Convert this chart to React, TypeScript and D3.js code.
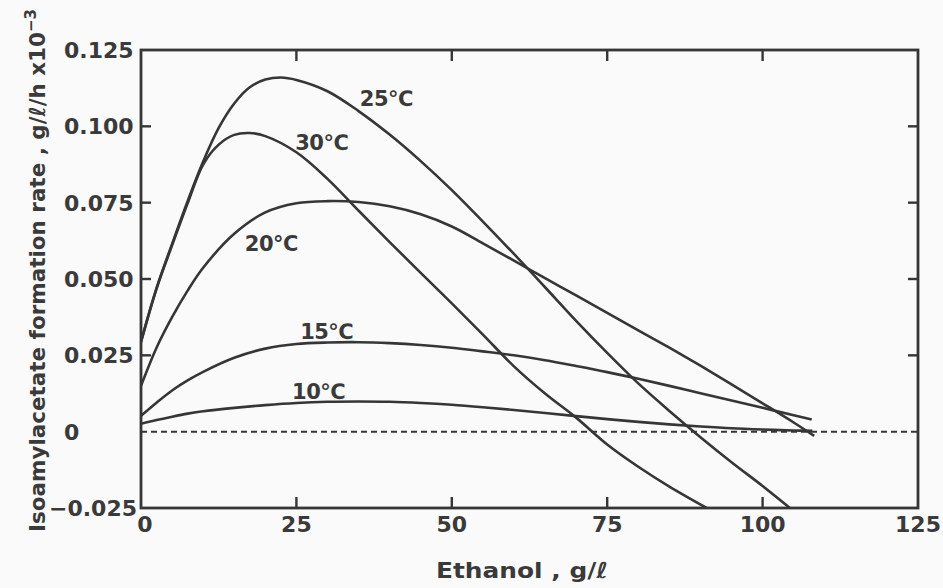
import React from "react";
import * as d3 from "d3";

const W = 943;
const H = 588;

// Data (Ethanol g/l, Isoamylacetate formation rate)
const ethanol25 = [0, 2.5, 5, 7.5, 10, 12.5, 15, 17.5, 20, 22.5, 25, 30, 35, 40, 45, 50, 55, 60, 65, 70, 75, 80, 85, 90, 95, 100, 104.4];
const rate25 = [0.0295, 0.047, 0.0615, 0.0755, 0.0885, 0.0995, 0.1075, 0.1128, 0.1153, 0.116, 0.1152, 0.1115, 0.105, 0.0973, 0.0886, 0.0791, 0.0688, 0.0582, 0.0473, 0.0363, 0.0258, 0.0158, 0.0068, -0.0018, -0.01, -0.0178, -0.025];

const ethanol30 = [0, 2.5, 5, 7.5, 10, 12.5, 15, 17.5, 20, 25, 30, 35, 40, 45, 50, 55, 60, 65, 70, 75, 80, 85, 91];
const rate30 = [0.0293, 0.0468, 0.061, 0.0748, 0.0875, 0.094, 0.0972, 0.0978, 0.0968, 0.0915, 0.0828, 0.0724, 0.0621, 0.052, 0.042, 0.0318, 0.0214, 0.0125, 0.0046, -0.0042, -0.0115, -0.018, -0.025];

const ethanol20 = [0, 2.5, 5, 7.5, 10, 15, 20, 25, 30, 35, 40, 45, 50, 55, 60, 65, 70, 75, 80, 85, 90, 95, 100, 105, 108.3];
const rate20 = [0.015, 0.0275, 0.0375, 0.0462, 0.0537, 0.0648, 0.0718, 0.0748, 0.0755, 0.0752, 0.0738, 0.0712, 0.0672, 0.0617, 0.056, 0.0503, 0.0446, 0.0389, 0.0332, 0.0275, 0.0216, 0.0155, 0.0093, 0.003, -0.0014];

const ethanol15 = [0, 2.5, 5, 7.5, 10, 15, 20, 25, 30, 35, 40, 45, 50, 55, 60, 65, 70, 75, 80, 85, 90, 95, 100, 105, 107.9];
const rate15 = [0.0052, 0.0095, 0.0135, 0.0168, 0.0196, 0.0242, 0.0272, 0.0287, 0.0292, 0.0293, 0.029, 0.0284, 0.0275, 0.0263, 0.025, 0.0234, 0.0215, 0.0195, 0.0173, 0.015, 0.0126, 0.0102, 0.0078, 0.0054, 0.004];

const ethanol10 = [0, 2.5, 5, 7.5, 10, 15, 20, 25, 30, 35, 40, 45, 50, 55, 60, 65, 70, 75, 80, 85, 90, 95, 100, 105, 108];
const rate10 = [0.0026, 0.0038, 0.0049, 0.0059, 0.0067, 0.0078, 0.0087, 0.0094, 0.0098, 0.0099, 0.0098, 0.0094, 0.0088, 0.008, 0.0071, 0.0061, 0.0051, 0.0041, 0.0032, 0.0024, 0.0017, 0.0011, 0.0007, 0.0004, 0.0003];

const curveLabels = ["25\u2103", "30\u2103", "20°C", "15\u2103", "10\u2103"];
const labelEthanol = [35.2, 24.8, 16.7, 25.6, 24.3];
const labelRate = [0.1068, 0.0924, 0.0593, 0.0305, 0.0108];

const xTicks = [0, 25, 50, 75, 100, 125];
const xTickLabels = ["0", "25", "50", "75", "100", "125"];
const yTicks = [-0.025, 0, 0.025, 0.05, 0.075, 0.1, 0.125];
const yTickLabels = ["\u22120.025", "0", "0.025", "0.050", "0.075", "0.100", "0.125"];

const xTitle = "Ethanol , g/\u2113";
const yTitle = "Isoamylacetate formation rate , g/\u2113/h x10";
const yTitleExp = "\u22123";

export default function App() {
  const x = d3.scaleLinear().domain([0, 125]).range([141, 918]);
  const y = d3.scaleLinear().domain([-0.025, 0.125]).range([508, 50]);

  const series = [
    [ethanol25, rate25],
    [ethanol30, rate30],
    [ethanol20, rate20],
    [ethanol15, rate15],
    [ethanol10, rate10],
  ].map(([xs, ys]) => xs.map((v, i) => [v, ys[i]] as [number, number]));

  const line = d3
    .line<[number, number]>()
    .x((d) => x(d[0]))
    .y((d) => y(d[1]))
    .curve(d3.curveCatmullRom.alpha(0.5));

  const ink = "#363636";
  const textInk = "#3a3a3a";
  const font = "'DejaVu Sans', sans-serif";
  const [x0, x1] = x.range();
  const [yb, yt] = y.range();

  return (
    <svg
      width={W}
      height={H}
      style={{ position: "absolute", left: 0, top: 0, background: "#fafafa" }}
      fontFamily={font}
    >
      <rect x={0} y={0} width={W} height={H} fill="#fafafa" />
      <defs>
        <clipPath id="plot">
          <rect x={x0} y={yt} width={x1 - x0} height={yb - yt} />
        </clipPath>
      </defs>

      {/* zero dashed line */}
      <line x1={x0} x2={x1} y1={y(0)} y2={y(0)} stroke={ink} strokeWidth={2} strokeDasharray="6,4" />

      {/* curves */}
      <g clipPath="url(#plot)">
        {series.map((s, i) => (
          <path key={i} d={line(s) || ""} fill="none" stroke={ink} strokeWidth={2.6} strokeLinejoin="round" />
        ))}
      </g>

      {/* frame */}
      <rect x={x0} y={yt} width={x1 - x0} height={yb - yt} fill="none" stroke={ink} strokeWidth={2.8} />

      {/* x ticks (inward, top & bottom) */}
      {xTicks.slice(1, -1).map((t) => (
        <g key={"xt" + t}>
          <line x1={x(t)} x2={x(t)} y1={yb} y2={yb - 11} stroke={ink} strokeWidth={2.4} />
          <line x1={x(t)} x2={x(t)} y1={yt} y2={yt + 11} stroke={ink} strokeWidth={2.4} />
        </g>
      ))}
      {/* y ticks (inward, left & right) */}
      {yTicks.filter((t) => t > 0 && t < 0.125).map((t) => (
        <g key={"yt" + t}>
          <line x1={x0} x2={x0 + 10} y1={y(t)} y2={y(t)} stroke={ink} strokeWidth={2.4} />
          <line x1={x1} x2={x1 - 10} y1={y(t)} y2={y(t)} stroke={ink} strokeWidth={2.4} />
        </g>
      ))}

      {/* x tick labels */}
      {xTicks.map((t, i) => (
        <text key={"xl" + t} x={x(t) + (t === 0 ? 4 : 0)} y={532} fontSize={22} fontWeight="bold" fill={textInk} textAnchor="middle">
          {xTickLabels[i]}
        </text>
      ))}

      {/* y tick labels */}
      {yTicks.map((t, i) => (
        <text
          key={"yl" + t}
          x={t < 0 ? 137 : 64}
          y={y(t)}
          dy="0.36em"
          fontSize={22}
          fontWeight="bold"
          fill={textInk}
          textAnchor={t < 0 ? "end" : "start"}
        >
          {yTickLabels[i]}
        </text>
      ))}

      {/* curve labels */}
      {curveLabels.map((l, i) => (
        <text key={"cl" + i} x={x(labelEthanol[i])} y={y(labelRate[i])} fontSize={21} fontWeight="bold" fill={textInk} letterSpacing={-0.5}>
          {l}
        </text>
      ))}

      {/* axis titles */}
      <text x={522} y={578} fontSize={22} fontWeight="bold" fill={textInk} textAnchor="middle" textLength={172} lengthAdjust="spacingAndGlyphs">
        {xTitle}
      </text>
      <text transform="translate(45,532) rotate(-90)" fontSize={22} fontWeight="bold" fill={textInk} textLength={500} lengthAdjust="spacingAndGlyphs">
        {yTitle}
      </text>
      <text transform="translate(45,32) rotate(-90)" dy={-9} fontSize={15} fontWeight="bold" fill={textInk}>
        {yTitleExp}
      </text>
    </svg>
  );
}
